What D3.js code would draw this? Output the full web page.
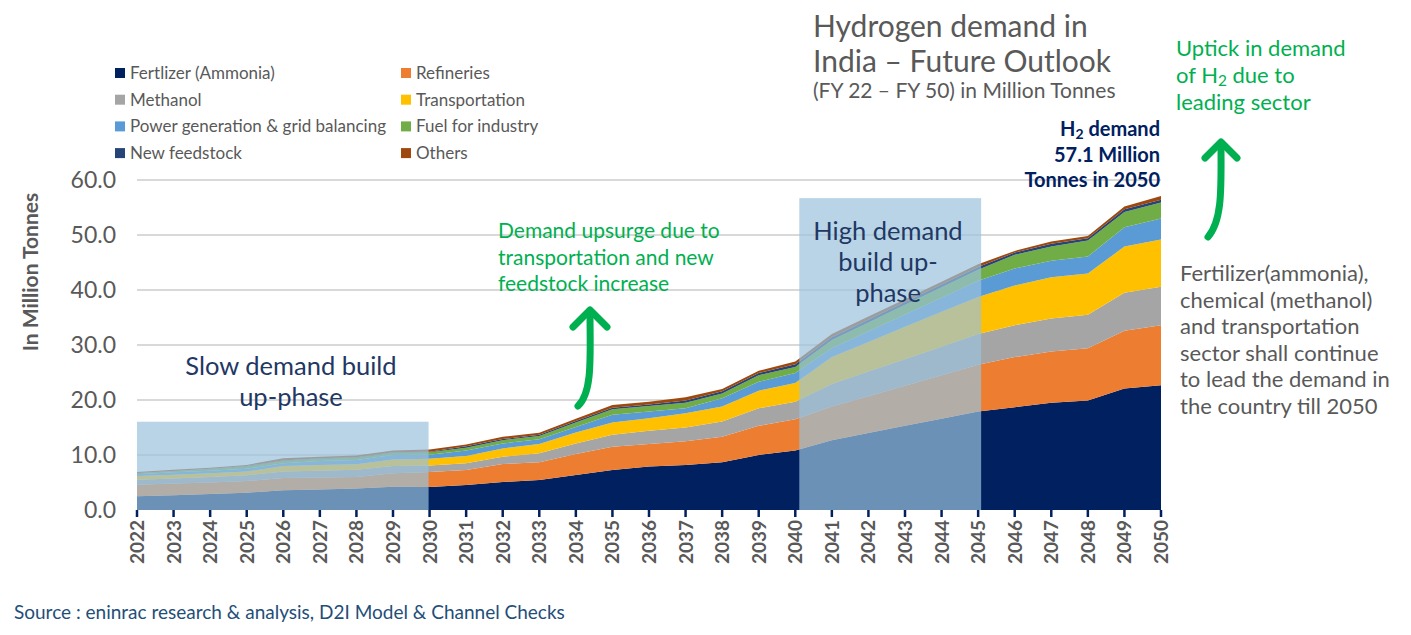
<!DOCTYPE html>
<html><head><meta charset="utf-8">
<script src="https://cdn.jsdelivr.net/npm/d3@7"></script>
<style>
body{margin:0;background:#fff;}
svg{display:block;font-family:Lato, "Open Sans", sans-serif;}
</style></head>
<body>
<svg id="chart" width="1411" height="635"></svg>
<script>
const years = [2022,2023,2024,2025,2026,2027,2028,2029,2030,2031,2032,2033,2034,2035,2036,2037,2038,2039,2040,2041,2042,2043,2044,2045,2046,2047,2048,2049,2050];
const seriesNames = ["Fertlizer (Ammonia)","Refineries","Methanol","Transportation","Power generation & grid balancing","Fuel for industry","New feedstock","Others"];
const fertilizer = [2.5,2.67,2.9,3.15,3.6,3.75,3.9,4.25,4.2,4.55,5.1,5.45,6.36,7.27,7.9,8.2,8.7,10.0,10.8,12.7,14.0,15.3,16.6,17.9,18.7,19.5,19.9,22.1,22.7];
const refineries = [2.1,2.13,2.1,2.12,2.2,2.15,2.1,2.45,2.7,2.72,3.26,3.25,3.84,4.23,4.1,4.3,4.6,5.3,5.7,6.1,6.7,7.3,7.9,8.5,9.1,9.3,9.5,10.5,10.9];
const methanol = [0.9,0.95,1.0,1.03,1.2,1.25,1.3,1.3,1.2,1.23,1.34,1.6,1.9,2.2,2.4,2.5,2.8,3.2,3.2,4.1,4.5,4.8,5.2,5.6,5.8,6.0,6.1,6.9,7.0];
const transportation = [0.7,0.65,0.7,0.7,1.0,1.05,1.0,1.2,1.2,1.3,1.5,1.7,2.0,2.2,2.3,2.6,2.7,3.2,3.4,4.9,5.35,5.9,6.35,6.75,7.2,7.5,7.5,8.4,8.6];
const powerGen = [0.3,0.45,0.45,0.5,0.5,0.7,0.8,0.8,0.75,1.0,0.9,0.85,1.0,1.4,1.2,0.9,1.5,1.6,1.8,1.6,1.95,2.25,2.55,2.95,3.1,3.0,3.1,3.5,3.8];
const fuelIndustry = [0.2,0.2,0.3,0.4,0.4,0.4,0.4,0.4,0.45,0.5,0.6,0.6,0.8,1.0,1.0,1.0,0.9,1.2,1.1,1.5,1.6,1.75,1.9,2.0,2.5,2.6,2.9,2.8,2.9];
const newFeedstock = [0.05,0.05,0.05,0.1,0.1,0.1,0.1,0.1,0.1,0.3,0.2,0.25,0.3,0.3,0.3,0.4,0.4,0.4,0.5,0.5,0.5,0.5,0.5,0.5,0.4,0.5,0.4,0.5,0.5];
const others = [0.15,0.2,0.2,0.2,0.4,0.3,0.3,0.3,0.4,0.3,0.4,0.35,0.4,0.5,0.5,0.6,0.4,0.4,0.5,0.6,0.6,0.5,0.5,0.5,0.3,0.4,0.4,0.5,0.7];
const colors = ["#002060","#ED7D31","#A5A5A5","#FFC000","#5B9BD5","#70AD47","#264478","#9E480E"];
const yTicks = [0,10,20,30,40,50,60];

const seriesArrays = [fertilizer,refineries,methanol,transportation,powerGen,fuelIndustry,newFeedstock,others];
const rows = years.map((y,i)=>{const r={year:y}; seriesNames.forEach((n,k)=>r[n]=seriesArrays[k][i]); return r;});

const svg = d3.select("#chart");
const x = d3.scaleLinear().domain([2022,2050]).range([137,1161]);
const y = d3.scaleLinear().domain([0,60]).range([510,180]);
const grey = "#595959", green = "#00B050", navy = "#002060", darkBlue="#1F3864";

// gridlines
svg.append("g").selectAll("line").data(yTicks.filter(d=>d>0)).join("line")
  .attr("x1",x(2022)).attr("x2",x(2050)).attr("y1",d=>y(d)).attr("y2",d=>y(d))
  .attr("stroke","#D9D9D9").attr("stroke-width",2);

// y labels
svg.append("g").selectAll("text").data(yTicks).join("text")
  .attr("x",116).attr("y",d=>y(d)+8).attr("text-anchor","end")
  .attr("font-size",23).attr("fill",grey).text(d=>d.toFixed(1));

svg.append("text").attr("transform","translate(38,272) rotate(-90)")
  .attr("text-anchor","middle").attr("font-size",21).attr("font-weight","bold")
  .attr("fill",grey).text("In Million Tonnes");

// stacked areas
const stack = d3.stack().keys(seriesNames);
const layers = stack(rows);
const area = d3.area().x(d=>x(d.data.year)).y0(d=>y(d[0])).y1(d=>y(d[1]));
svg.append("g").selectAll("path").data(layers).join("path")
  .attr("d",area).attr("fill",(d,i)=>colors[i]);

// x axis ticks & labels
const xg = svg.append("g").attr("transform","translate(0,510)");
xg.selectAll("line").data(years).join("line")
  .attr("x1",d=>x(d)).attr("x2",d=>x(d)).attr("y1",0).attr("y2",7)
  .attr("stroke",navy).attr("stroke-width",2.5);
xg.selectAll("text").data(years).join("text")
  .attr("transform",d=>`translate(${x(d)+7},10) rotate(-90)`)
  .attr("text-anchor","end").attr("font-size",19).attr("font-weight","bold")
  .attr("fill",grey).text(d=>d);

// shaded phases
const phaseFill = "#9AC2DC", phaseOpacity = 0.7;
svg.append("rect").attr("x",x(2022)).attr("y",y(16.05)).attr("width",x(2030)-x(2022)-1).attr("height",y(0)-y(16.05))
  .attr("fill",phaseFill).attr("opacity",phaseOpacity);
svg.append("rect").attr("x",x(2040)+4).attr("y",y(56.7)).attr("width",x(2045)-x(2040)-1).attr("height",y(0)-y(56.7))
  .attr("fill",phaseFill).attr("opacity",phaseOpacity);

function lines(txt, x0, y0, dy, opts){
  const t = svg.append("text").attr("x",x0).attr("y",y0);
  Object.entries(opts).forEach(([k,v])=>t.attr(k,v));
  txt.forEach((s,i)=>{
    const ts = t.append("tspan").attr("x",x0).attr("y",y0+i*dy);
    if (Array.isArray(s)) s.forEach(p=>{ const sp=ts.append("tspan").text(p.t); if(p.sub) sp.attr("font-size",opts["font-size"]*0.7).attr("dy",3); if(p.after) sp.attr("dy",-3);});
    else ts.text(s);
  });
  return t;
}

lines(["Slow demand build","up-phase"],291,375,31,{"text-anchor":"middle","font-size":25.5,"fill":darkBlue});
lines(["High demand","build up-","phase"],888,240,31,{"text-anchor":"middle","font-size":25.5,"fill":darkBlue});
lines(["Demand upsurge due to","transportation and new","feedstock increase"],498,238,26.5,{"font-size":21,"fill":green});
lines(["Uptick in demand",[{t:"of H"},{t:"2",sub:true},{t:" due to",after:true}],"leading sector"],1176,56,27,{"font-size":22,"fill":green});
lines([[{t:"H"},{t:"2",sub:true},{t:" demand",after:true}],"57.1 Million","Tonnes in 2050"],1160,136,25.5,{"text-anchor":"end","font-size":20,"font-weight":"bold","fill":navy});
lines(["Fertilizer(ammonia),","chemical (methanol)","and transportation","sector shall continue","to lead the demand in","the country till 2050"],1180,281,26.6,{"font-size":22,"fill":grey});

// title
lines(["Hydrogen demand in","India – Future Outlook"],813,37,35,{"font-size":30,"fill":grey});
svg.append("text").attr("x",813).attr("y",98).attr("font-size",21).attr("fill",grey).text("(FY 22 – FY 50) in Million Tonnes");

// green arrows
function arrow(path, head){
  svg.append("path").attr("d",path).attr("fill","none").attr("stroke",green).attr("stroke-width",7).attr("stroke-linecap","round");
  svg.append("path").attr("d",head).attr("fill","none").attr("stroke",green).attr("stroke-width",7).attr("stroke-linecap","round").attr("stroke-linejoin","round");
}
arrow("M590,312 C590,355 593,392 578,406","M573,327 L590,310 L607,327");
arrow("M1221,143 C1221,185 1223,220 1208,237","M1205,158 L1221,142 L1237,158");

// legend
const legendPos = seriesNames.map((n,i)=>({n, c:colors[i], col:i%2, row:Math.floor(i/2)}));
const lg = svg.append("g");
lg.selectAll("rect").data(legendPos).join("rect")
  .attr("x",d=>115+d.col*286).attr("y",d=>68+d.row*26.7).attr("width",10).attr("height",10).attr("fill",d=>d.c);
lg.selectAll("text").data(legendPos).join("text")
  .attr("x",d=>130+d.col*286).attr("y",d=>79+d.row*26.7).attr("font-size",17).attr("fill",grey).text(d=>d.n);

// source
svg.append("text").attr("x",14).attr("y",619).attr("font-size",19).attr("fill","#1F4E79")
  .text("Source : eninrac research & analysis, D2I Model & Channel Checks");
</script>
</body></html>
